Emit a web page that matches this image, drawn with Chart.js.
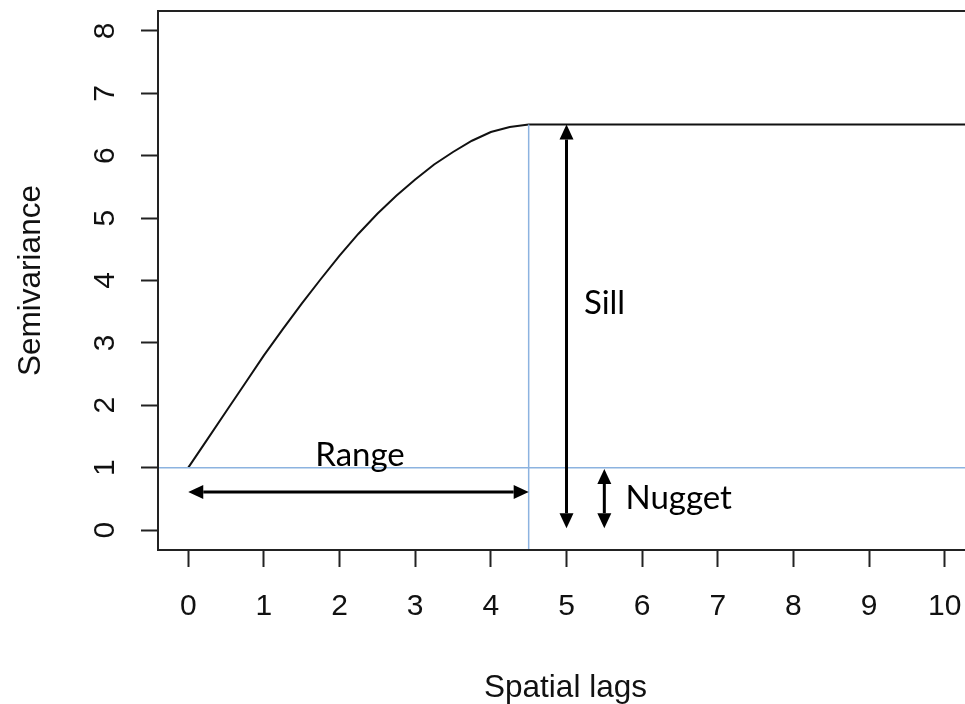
<!DOCTYPE html>
<html>
<head>
<meta charset="utf-8">
<script src="https://cdn.jsdelivr.net/npm/chart.js@4/dist/chart.umd.min.js"></script>
<style>
  html, body { margin: 0; padding: 0; background: #fff; overflow: hidden; width: 965px; height: 704px; }
  #chart { position: absolute; left: 0; top: 0; }
</style>
</head>
<body>
<canvas id="chart" width="990" height="704"></canvas>
<script>
// fitted semivariogram
const lagX = [0, 0.25, 0.5, 0.75, 1, 1.25, 1.5, 1.75, 2, 2.25, 2.5, 2.75, 3, 3.25, 3.5, 3.75, 4, 4.25, 4.5, 10.4];
const semiY = [1.0, 1.45, 1.9, 2.35, 2.8, 3.22, 3.63, 4.02, 4.4, 4.75, 5.07, 5.36, 5.62, 5.86, 6.06, 6.24, 6.38, 6.46, 6.5, 6.5];

const xTicks = [0, 1, 2, 3, 4, 5, 6, 7, 8, 9, 10];
const yTicks = [0, 1, 2, 3, 4, 5, 6, 7, 8];

// reference lines (blue)
const nuggetLineY = 1.0;
const rangeLineX = 4.5;
const sillY = 6.5;

// annotation arrows: [x1, y1, x2, y2] in data units
const arrows = [
    [0, 0.61, 4.5, 0.61],   // range
    [5.0, 6.5, 5.0, 0.03],  // sill
    [5.5, 0.98, 5.5, 0.03]  // nugget
];
const notes = [
    { text: "Range", x: 2.27, y: 1.03, align: "center", base: "alphabetic" },
    { text: "Sill", x: 5.23, y: 3.64, align: "left", base: "middle" },
    { text: "Nugget", x: 5.78, y: 0.51, align: "left", base: "middle" }
];

const curve = lagX.map((x, i) => ({ x: x, y: semiY[i] }));

// draws box, rotated y labels, titles and the arrows
const extras = {
    id: "extras",
    afterDraw(chart) {
        const ctx = chart.ctx;
        const a = chart.chartArea;
        const xs = chart.scales.x, ys = chart.scales.y;
        ctx.save();
        ctx.strokeStyle = "#222";
        ctx.lineWidth = 2;
        ctx.strokeRect(a.left, a.top, a.right - a.left, a.bottom - a.top);

        // y tick labels, rotated like R
        ctx.fillStyle = "#111";
        ctx.font = "30px 'Liberation Sans', Arial, sans-serif";
        ctx.textAlign = "center";
        ctx.textBaseline = "alphabetic";
        yTicks.forEach(v => {
            ctx.save();
            ctx.translate(114, ys.getPixelForValue(v));
            ctx.rotate(-Math.PI / 2);
            ctx.fillText(String(v), 0, 0);
            ctx.restore();
        });

        // axis titles
        ctx.font = "31.5px 'Liberation Sans', Arial, sans-serif";
        ctx.fillText("Spatial lags", (a.left + a.right) / 2 - 1, 697);
        ctx.save();
        ctx.translate(40, (a.top + a.bottom) / 2);
        ctx.rotate(-Math.PI / 2);
        ctx.fillText("Semivariance", 0, 0);
        ctx.restore();

        // arrows
        ctx.strokeStyle = "#000";
        ctx.fillStyle = "#000";
        ctx.lineWidth = 3;
        arrows.forEach(ar => {
            const x1 = xs.getPixelForValue(ar[0]), y1 = ys.getPixelForValue(ar[1]);
            const x2 = xs.getPixelForValue(ar[2]), y2 = ys.getPixelForValue(ar[3]);
            const ang = Math.atan2(y2 - y1, x2 - x1);
            const hl = 15, hw = 7;
            ctx.beginPath();
            ctx.moveTo(x1 + Math.cos(ang) * hl, y1 + Math.sin(ang) * hl);
            ctx.lineTo(x2 - Math.cos(ang) * hl, y2 - Math.sin(ang) * hl);
            ctx.stroke();
            [[x1, y1, ang + Math.PI], [x2, y2, ang]].forEach(h => {
                const [hx, hy, d] = h;
                ctx.beginPath();
                ctx.moveTo(hx, hy);
                ctx.lineTo(hx - Math.cos(d) * hl - Math.sin(d) * hw, hy - Math.sin(d) * hl + Math.cos(d) * hw);
                ctx.lineTo(hx - Math.cos(d) * hl + Math.sin(d) * hw, hy - Math.sin(d) * hl - Math.cos(d) * hw);
                ctx.closePath();
                ctx.fill();
            });
        });

        // annotation text
        ctx.font = "33px Lato, 'Open Sans', sans-serif";
        notes.forEach(n => {
            ctx.textAlign = n.align;
            ctx.textBaseline = n.base;
            ctx.fillText(n.text, xs.getPixelForValue(n.x), ys.getPixelForValue(n.y));
        });
        ctx.restore();
    }
};

new Chart(document.getElementById("chart").getContext("2d"), {
    type: "scatter",
    data: {
        datasets: [
            {
                data: [{ x: -0.4, y: nuggetLineY }, { x: 10.4, y: nuggetLineY }],
                showLine: true, borderColor: "#8cb3e0", borderWidth: 1.5, pointRadius: 0
            },
            {
                data: [{ x: rangeLineX, y: sillY }, { x: rangeLineX, y: -0.32 }],
                showLine: true, borderColor: "#8cb3e0", borderWidth: 1.5, pointRadius: 0
            },
            {
                data: curve,
                showLine: true, borderColor: "#111", borderWidth: 2, pointRadius: 0, tension: 0
            }
        ]
    },
    options: {
        responsive: false,
        animation: false,
        layout: { padding: { top: 11, right: 15, left: 0, bottom: 0 } },
        plugins: { legend: { display: false }, tooltip: { enabled: false } },
        scales: {
            x: {
                type: "linear", min: -0.4, max: 10.4,
                afterBuildTicks: s => { s.ticks = xTicks.map(v => ({ value: v })); },
                afterFit: s => { s.height = 154; },
                grid: { drawOnChartArea: false, drawTicks: true, tickLength: 17, tickColor: "#222", tickWidth: 2 },
                border: { display: true, color: "#222", width: 2 },
                ticks: { color: "#111", padding: 22, font: { family: "'Liberation Sans', Arial, sans-serif", size: 30 } }
            },
            y: {
                type: "linear", min: -0.32, max: 8.32,
                afterBuildTicks: s => { s.ticks = yTicks.map(v => ({ value: v })); },
                afterFit: s => { s.width = 158; },
                grid: { drawOnChartArea: false, drawTicks: true, tickLength: 17, tickColor: "#222", tickWidth: 2 },
                border: { display: true, color: "#222", width: 2 },
                ticks: { display: false }
            }
        }
    },
    plugins: [extras]
});
</script>
</body>
</html>
